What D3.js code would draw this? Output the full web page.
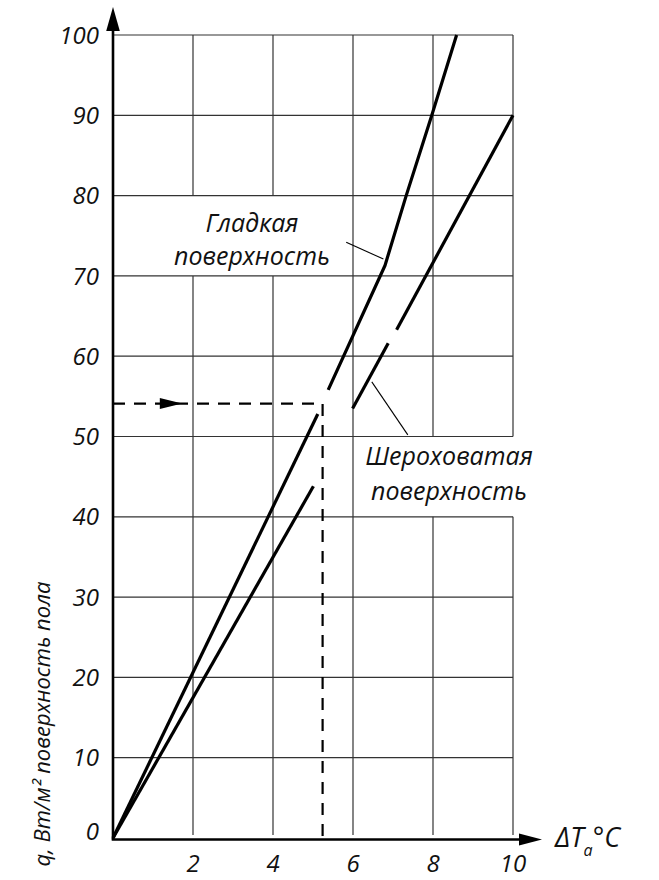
<!DOCTYPE html>
<html><head><meta charset="utf-8">
<script src="https://cdn.jsdelivr.net/npm/d3@7"></script>
<style>
html,body{margin:0;padding:0;background:#fff;}
text{font-family:"Open Sans",sans-serif;font-style:italic;fill:#111;}
</style></head>
<body>
<svg id="chart" width="659" height="880"></svg>
<script>
// ---- data ----
const xTicks = [2, 4, 6, 8, 10];
const yTicks = [0, 10, 20, 30, 40, 50, 60, 70, 80, 90, 100];
// Гладкая поверхность (smooth), drawn in two pieces
const smoothA = [[0, 0], [5.12, 52.8]];
const smoothB = [[5.38, 55.8], [6.8, 71.3], [7.33, 80], [7.97, 90], [8.59, 100]];
// Шероховатая поверхность (rough), drawn in three pieces
const roughA = [[0, 0], [5.01, 43.8]];
const roughB = [[5.99, 53.5], [6.88, 61.6]];
const roughC = [[7.09, 63.3], [10, 90]];
// read-off example: q = 54.1 -> ΔT = 5.24
const guideQ = 54.1;
const guideT = 5.24;
// grid cells left open for the labels
const gridGaps = [
  {x: 2, from: 70, to: 80}, {x: 4, from: 70, to: 80},
  {x: 8, from: 40, to: 50}, {x: 10, from: 40, to: 50}
];
const labelSmooth = ["Гладкая", "поверхность"];
const labelRough = ["Шероховатая", "поверхность"];
const yTitle = "q, Вт/м² поверхность пола";

// ---- scales ----
const x = d3.scaleLinear().domain([0, 10]).range([113, 513]);
const y = d3.scaleLinear().domain([0, 100]).range([838, 35]);
const svg = d3.select("#chart");

// ---- grid ----
const grid = svg.append("g").attr("stroke", "#333").attr("stroke-width", 1.2);
grid.selectAll("line.h").data(yTicks.filter(d => d > 0)).join("line")
  .attr("x1", x(0)).attr("x2", x(10)).attr("y1", d => y(d)).attr("y2", d => y(d));
xTicks.forEach(t => {
  const gaps = gridGaps.filter(g => g.x === t).sort((a, b) => b.to - a.to);
  let top = 100;
  const segs = [];
  gaps.forEach(g => { segs.push([top, g.to]); top = g.from; });
  segs.push([top, 0]);
  segs.forEach(s => grid.append("line")
    .attr("x1", x(t)).attr("x2", x(t)).attr("y1", y(s[0])).attr("y2", y(s[1]) - (s[1] === 0 ? 3 : 0)));
});

// ---- axes with arrows ----
svg.append("line").attr("x1", x(0)).attr("x2", x(0)).attr("y1", y(0) + 1.5).attr("y2", 30)
  .attr("stroke", "#000").attr("stroke-width", 2.6);
svg.append("path").attr("d", `M${x(0) - 6.8},31 L${x(0)},7 L${x(0) + 6.8},31 Z`).attr("fill", "#000");
svg.append("line").attr("x1", x(0) - 1.3).attr("x2", 520).attr("y1", y(0) + 1.5).attr("y2", y(0) + 1.5)
  .attr("stroke", "#000").attr("stroke-width", 2.6);
svg.append("path").attr("d", `M519,${y(0) + 1.5 - 6} L542,${y(0) + 1.5} L519,${y(0) + 1.5 + 6} Z`).attr("fill", "#000");

// ---- tick labels ----
svg.selectAll("text.yt").data(yTicks).join("text").attr("class", "yt")
  .attr("x", 99).attr("y", d => d === 0 ? y(0) + 2 : y(d))
  .attr("dy", d => d === 0 ? "0" : "0.36em")
  .attr("text-anchor", "end").attr("font-size", 24).text(d => d);
svg.selectAll("text.xt").data(xTicks).join("text").attr("class", "xt")
  .attr("x", d => x(d)).attr("y", 872)
  .attr("text-anchor", "middle").attr("font-size", 24).text(d => d);

// axis titles
const xt = svg.append("text").attr("x", 555).attr("y", 847).attr("font-size", 27);
xt.append("tspan").text("ΔT");
xt.append("tspan").attr("font-size", 16).attr("dy", 9).attr("dx", 0).text("a");
xt.append("tspan").attr("dy", -9).text("°C");
svg.append("text").attr("transform", "translate(50,724) rotate(-90)")
  .attr("text-anchor", "middle").attr("font-size", 22).text(yTitle);

// ---- guide (dashed) ----
svg.append("path")
  .attr("d", `M${x(0)},${y(guideQ)} H${x(guideT)} V${y(0)}`)
  .attr("fill", "none").attr("stroke", "#000").attr("stroke-width", 2.2)
  .attr("stroke-dasharray", "12,9");
svg.append("path")
  .attr("d", `M${x(1.17)},${y(guideQ) - 5.5} L${x(1.73)},${y(guideQ)} L${x(1.17)},${y(guideQ) + 5.5} Z`)
  .attr("fill", "#000");

// ---- curves ----
const line = d3.line().x(d => x(d[0])).y(d => y(d[1]));
[smoothA, smoothB, roughA, roughB, roughC].forEach(seg =>
  svg.append("path").attr("d", line(seg)).attr("fill", "none")
    .attr("stroke", "#000").attr("stroke-width", 3.2).attr("stroke-linejoin", "round"));

// leaders
svg.append("line").attr("x1", x(5.83)).attr("y1", y(74.2)).attr("x2", x(6.76)).attr("y2", y(72.1))
  .attr("stroke", "#000").attr("stroke-width", 1.1);
svg.append("line").attr("x1", x(6.47)).attr("y1", y(56.8)).attr("x2", x(7.37)).attr("y2", y(50.2))
  .attr("stroke", "#000").attr("stroke-width", 1.1);

// curve labels
svg.selectAll("text.ls").data(labelSmooth).join("text").attr("class", "ls")
  .attr("x", 252).attr("y", (d, i) => 232 + i * 33)
  .attr("text-anchor", "middle").attr("font-size", 25).text(d => d);
svg.selectAll("text.lr").data(labelRough).join("text").attr("class", "lr")
  .attr("x", 449).attr("y", (d, i) => 465 + i * 35)
  .attr("text-anchor", "middle").attr("font-size", 25).text(d => d);
</script>
</body></html>
